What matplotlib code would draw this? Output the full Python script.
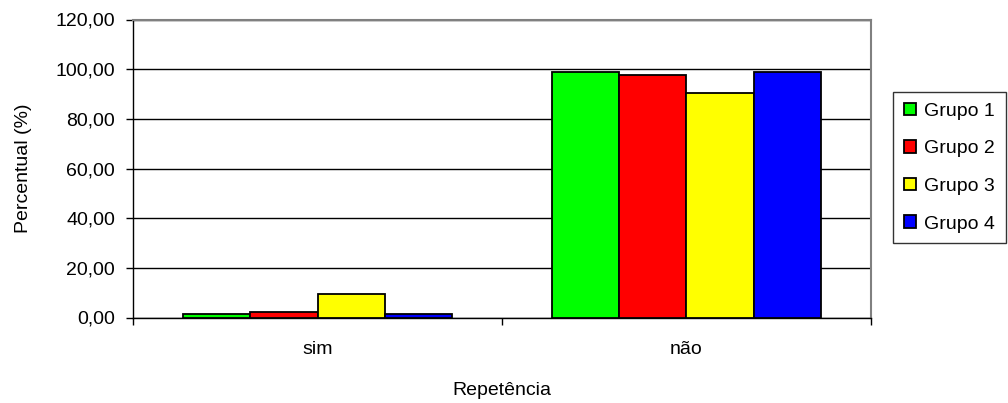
import matplotlib.pyplot as plt
import numpy as np
from matplotlib.patches import Patch
from matplotlib.ticker import FuncFormatter, FixedLocator

plt.rcParams['font.family'] = ['Liberation Sans', 'DejaVu Sans']

# Repetência por grupo (%)
categorias = ["sim", "não"]
grupos = ["Grupo 1", "Grupo 2", "Grupo 3", "Grupo 4"]
grupo1 = [1.3, 98.7]
grupo2 = [2.2, 97.8]
grupo3 = [9.4, 90.6]
grupo4 = [1.3, 98.7]
cores = ["#00ff00", "#ff0000", "#ffff00", "#0000ff"]

valores = [grupo1, grupo2, grupo3, grupo4]
x = np.arange(len(categorias))
largura = 1 / 5.5
fs = 14

fig = plt.figure(figsize=(10.08, 4.03), dpi=100)
ax = fig.add_axes([133 / 1008, 1 - 317.5 / 403, (871 - 133) / 1008, (317.5 - 19.5) / 403])

for i, (vals, cor) in enumerate(zip(valores, cores)):
    ax.bar(x + (i - 1.5) * largura, vals, largura, color=cor,
           edgecolor="black", linewidth=1.3, zorder=3)

ax.set_xlim(-0.5, 1.5)
ax.set_ylim(0, 120)
ax.set_yticks(np.arange(0, 121, 20))
ax.yaxis.set_major_formatter(FuncFormatter(lambda v, p: f"{v:.2f}".replace(".", ",")))
ax.yaxis.grid(True, color="black", linewidth=1, zorder=0)

# rótulos no centro das categorias, traços nas divisões
ax.set_xticks(x)
ax.set_xticklabels(categorias)
ax.tick_params(axis="x", which="major", length=0, pad=17, labelsize=fs)
ax.xaxis.set_minor_locator(FixedLocator([-0.5, 0.5, 1.5]))
ax.tick_params(axis="x", which="minor", length=5, width=1, color="black")
ax.tick_params(axis="y", length=5, width=1, labelsize=fs, pad=8)

for lado in ["top", "right"]:
    ax.spines[lado].set_color("#808080")
    ax.spines[lado].set_linewidth(1.5)
for lado in ["left", "bottom"]:
    ax.spines[lado].set_color("black")
    ax.spines[lado].set_linewidth(1)

ax.set_ylabel("Percentual (%)", fontsize=fs)
ax.yaxis.set_label_coords((32 - 133) / 738, 0.5)
ax.set_xlabel("Repetência", fontsize=fs)
ax.xaxis.set_label_coords(0.5, (317.5 - 382) / 298)

handles = [Patch(facecolor=c, edgecolor="black", linewidth=1.3) for c in cores]
leg = fig.legend(handles, grupos, loc="upper left",
                 bbox_to_anchor=(893 / 1008, 1 - 92 / 403),
                 fontsize=fs, frameon=True, fancybox=False,
                 handlelength=0.62, handleheight=0.62, handletextpad=0.45,
                 labelspacing=1.05, borderpad=0.55, borderaxespad=0)
leg.get_frame().set_edgecolor("black")
leg.get_frame().set_linewidth(1)

fig.savefig("out.png", dpi=100)
